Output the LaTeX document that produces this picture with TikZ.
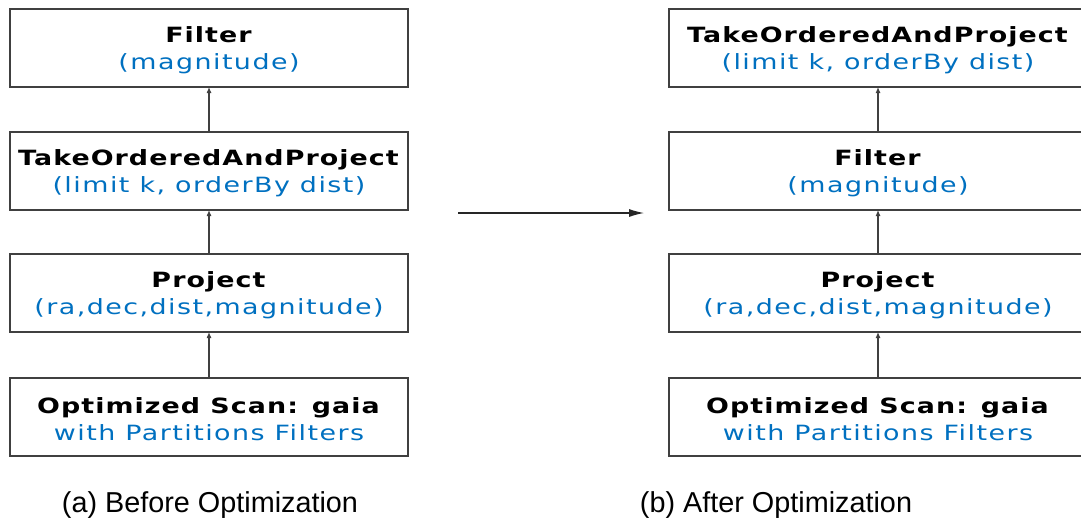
\documentclass[tikz,border=0pt]{standalone}
\usepackage{fontspec}
\setmainfont{DejaVu Sans}
\newfontfamily\boxfont[FakeStretch=1.28,LetterSpace=5]{DejaVu Sans}
\newfontfamily\bluefont[FakeStretch=1.28,LetterSpace=7]{DejaVu Sans}
\newfontfamily\capfont{Liberation Sans}
\usetikzlibrary{arrows.meta}
\definecolor{opblue}{HTML}{0070C0}
\definecolor{edge}{HTML}{404040}
\tikzset{
  opbox/.style={draw=edge, line width=1.1pt, minimum height=78pt, inner sep=0pt, outer sep=0pt, align=center,
    font=\boxfont\fontsize{21}{27}\selectfont},
  leftbox/.style={opbox, minimum width=398pt},
  rightbox/.style={opbox, minimum width=418pt},
  uparrow/.style={draw=edge, line width=1.1pt, -{Latex[length=6pt,width=5pt]}},
  bigarrow/.style={draw=black!85, line width=1.1pt, -{Latex[length=15pt,width=8pt]}},
  captext/.style={font=\capfont\fontsize{28.8}{32}\selectfont, inner sep=0pt}
}
\newcommand{\optext}[2]{\rule{0pt}{21pt}\textbf{#1}\\{\bluefont\color{opblue}#2}}
\begin{document}
\begin{tikzpicture}[x=1pt,y=-1pt]
\useasboundingbox (0,0) rectangle (1081,522);
\begin{scope}
\clip (0,0) rectangle (1081,522);
% left column
\node[leftbox] (a1) at (209,48) {\optext{Filter}{(magnitude)}};
\node[leftbox] (a2) at (209,171) {\optext{TakeOrderedAndProject}{(limit k, orderBy dist)}};
\node[leftbox] (a3) at (209,293) {\optext{Project}{(ra,dec,dist,magnitude)}};
\node[leftbox] (a4) at (209,417) {\optext{Optimized Scan: gaia}{with Partitions Filters}};
% right column
\node[rightbox] (b1) at (878,48) {\optext{TakeOrderedAndProject}{(limit k, orderBy dist)}};
\node[rightbox] (b2) at (878,171) {\optext{Filter}{(magnitude)}};
\node[rightbox] (b3) at (878,293) {\optext{Project}{(ra,dec,dist,magnitude)}};
\node[rightbox] (b4) at (878,417) {\optext{Optimized Scan: gaia}{with Partitions Filters}};
\end{scope}
\draw[uparrow] (a4.north) -- (a3.south);
\draw[uparrow] (a3.north) -- (a2.south);
\draw[uparrow] (a2.north) -- (a1.south);
\draw[uparrow] (b4.north) -- (b3.south);
\draw[uparrow] (b3.north) -- (b2.south);
\draw[uparrow] (b2.north) -- (b1.south);
\coordinate (mstart) at (458,213);
\coordinate (mend) at (644,213);
\draw[bigarrow] (mstart) -- (mend);
\node[captext] (capa) at (210,505) {(a) Before Optimization};
\node[captext] (capb) at (776,505) {(b) After Optimization};
\end{tikzpicture}
\end{document}
